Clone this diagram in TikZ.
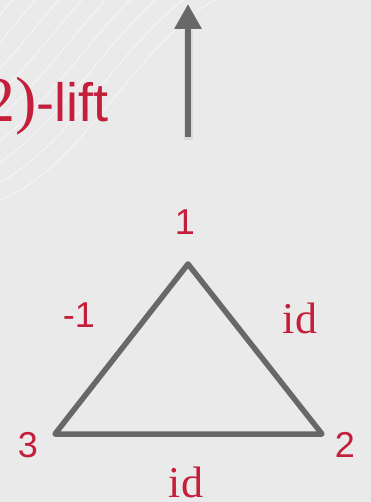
\documentclass[tikz,border=0pt]{standalone}
\usepackage{fontspec}
\setmainfont{Liberation Serif}
\setsansfont{Liberation Sans}
\usetikzlibrary{arrows.meta}
\definecolor{bgcol}{RGB}{234,234,234}
\definecolor{edgecol}{RGB}{104,104,104}
\definecolor{txtcol}{RGB}{196,30,58}
\tikzset{
  lbl/.style={text=txtcol, inner sep=0pt, font=\sffamily\fontsize{36}{36}\selectfont},
  idlbl/.style={text=txtcol, inner sep=0pt, font=\rmfamily\fontsize{44}{44}\selectfont},
  edge/.style={draw=edgecol, line width=5.5pt, line join=round, line cap=round},
  bgline/.style={draw=white, opacity=0.6, line width=0.8pt},
}
\begin{document}
\begin{tikzpicture}[x=1pt,y=-1pt]
\useasboundingbox (0,0) rectangle (371,502);
\fill[bgcol] (0,0) rectangle (371,502);
\begin{scope}
\clip (0,0) rectangle (371,502);
\foreach \d in {0,1,...,9}{
  \draw[bgline] ({0-12.5*\d},{200-12.5*\d}) .. controls ({80-12.5*\d},{170-12.5*\d}) and ({140-12.5*\d},{40-12.5*\d}) .. ({215-12.5*\d},{0-12.5*\d});
}
\end{scope}
% title text
\node[anchor=base east, inner sep=0pt, text=txtcol] (title) at (109,122)
  {{\rmfamily\fontsize{64}{64}\selectfont 2)}{\sffamily\fontsize{54}{54}\selectfont -lift}};
% arrow
\coordinate (abot) at (188,137);
\coordinate (atop) at (188,4);
\draw[edgecol, opacity=0.12, line width=9pt] (188.5,140) -- (188.5,30);
\draw[edgecol, line width=6pt, -{Triangle[width=26pt,length=25pt]}] (abot) -- (atop);
% triangle
\coordinate (v1) at (188,264);
\coordinate (v2) at (322,434);
\coordinate (v3) at (55,434);
\draw[edge] (v1) -- (v2) -- (v3) -- cycle;
% labels
\node[lbl, anchor=base] (l1) at (185,234) {1};
\node[lbl, anchor=base] (l2) at (345,457) {2};
\node[lbl, anchor=base] (l3) at (28,457) {3};
\node[lbl, anchor=base] (lm) at (79,327) {-1};
\node[idlbl, anchor=base] (id12) at (300,333) {id};
\node[idlbl, anchor=base] (id23) at (186,497) {id};
\end{tikzpicture}
\end{document}
